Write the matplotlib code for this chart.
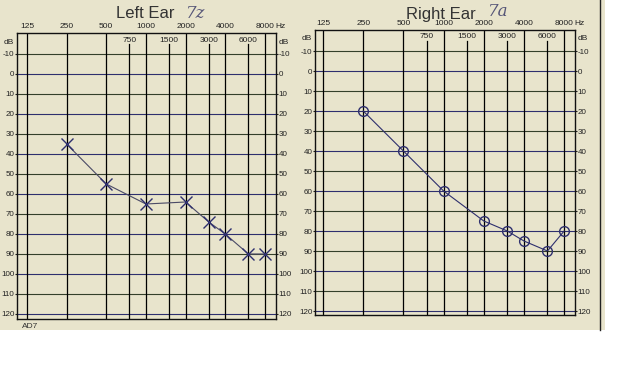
import numpy as np
import matplotlib
matplotlib.use("Agg")
import matplotlib.pyplot as plt
from matplotlib.patches import Rectangle
from matplotlib.transforms import blended_transform_factory

plt.rcParams['font.family'] = ['Liberation Sans', 'DejaVu Sans']

# dane audiogramu
freqs = [250, 500, 1000, 2000, 3000, 4000, 6000, 8000]
left_db = [35, 55, 65, 64, 74, 80, 90, 90]
right_db = [20, 40, 60, 75, 80, 85, 90, 80]

main_freqs = [125, 250, 500, 1000, 2000, 4000, 8000]
mid_freqs = [750, 1500, 3000, 6000]
db_ticks = list(range(-10, 130, 10))

W, H = 640, 384
paper = '#e8e4cc'
ink = '#2e2f6e'

fig = plt.figure(figsize=(6.4, 3.84), dpi=100)
fig.patch.set_facecolor('white')
fig.patches.append(Rectangle((0, 1 - 330 / H), 605 / W, 330 / H, transform=fig.transFigure,
                             facecolor=paper, edgecolor='none', zorder=-10))
fig.add_artist(plt.Line2D([600 / W, 600 / W], [1 - 330 / H, 1], transform=fig.transFigure,
                          color='#222222', lw=1, zorder=-5))


def px_axes(l, r, t, b):
    return fig.add_axes([l / W, 1 - b / H, (r - l) / W, (b - t) / H])


def audiogram(ax, title, vals, marker, xl, xr, ytop, ybot, title_x):
    ax.set_facecolor(paper)
    ax.set_xscale('log', base=2)
    ax.set_xlim(125 * 2 ** -xl, 8000 * 2 ** xr)
    ax.set_ylim(ybot, ytop)
    ax.minorticks_off()

    for i, d in enumerate(db_ticks):
        ax.axhline(d, color=ink if i % 2 else '#34402a', lw=0.8, zorder=1)
    for f in main_freqs:
        ax.axvline(f, color='black', lw=0.9, zorder=1)
    for f in mid_freqs:
        ax.plot([f, f], [ybot, -15], color='black', lw=0.9, zorder=1)
        ax.text(f, -17, str(f), ha='center', va='center', fontsize=6, color='#222222')

    ax.set_xticks(main_freqs)
    ax.set_xticklabels([str(f) for f in main_freqs], fontsize=6, color='#222222')
    ax.xaxis.tick_top()
    ax.tick_params(axis='x', length=0, pad=2)
    ax.annotate('Hz', xy=(8000, ytop), xytext=(7.5, 2), textcoords='offset points',
                ha='left', va='bottom', fontsize=6, color='#222222', annotation_clip=False)

    ax.set_yticks(db_ticks)
    ax.set_yticklabels([str(d) for d in db_ticks], fontsize=5.8, color='#222222')
    ax.tick_params(axis='y', left=True, right=True, labelleft=True, labelright=True,
                   length=1.5, pad=0.3, color='#222222')
    tr = blended_transform_factory(ax.transAxes, ax.transData)
    ax.text(-0.012, -16, 'dB', transform=tr, ha='right', va='center', fontsize=6, color='#222222')
    ax.text(1.012, -16, 'dB', transform=tr, ha='left', va='center', fontsize=6, color='#222222')

    for s in ax.spines.values():
        s.set_color('#111111')
        s.set_linewidth(1)

    if marker == 'x':
        ax.plot(freqs, vals, color='#4a4a66', lw=0.8, marker='x', ms=9, mew=1,
                mec=ink, zorder=3, clip_on=False)
    else:
        ax.plot(freqs, vals, color=ink, lw=0.8, marker='o', ms=7, mew=1,
                mfc='none', mec=ink, zorder=3, clip_on=False)

    fig.text(title_x / W, 1 - 14 / H, title, ha='center', va='center', fontsize=12,
             color='#333333')


ax_l = px_axes(17, 276, 33, 319)
audiogram(ax_l, 'Left Ear', left_db, 'x', 0.25, 0.28, -20.5, 122.5, 145)

ax_r = px_axes(315, 575, 30, 315)
audiogram(ax_r, 'Right Ear', right_db, 'o', 0.2, 0.27, -20.5, 122, 441)

# odręczne dopiski
fig.text(196 / W, 1 - 14 / H, '7z', fontsize=12, style='italic', color='#555577',
         family='DejaVu Serif', ha='center', va='center')
fig.text(498 / W, 1 - 12 / H, '7a', fontsize=12, style='italic', color='#555577',
         family='DejaVu Serif', ha='center', va='center')
fig.text(22 / W, 1 - 327 / H, 'AD7', fontsize=6, color='#333333', ha='left', va='center')

fig.savefig('out.png', dpi=100)
